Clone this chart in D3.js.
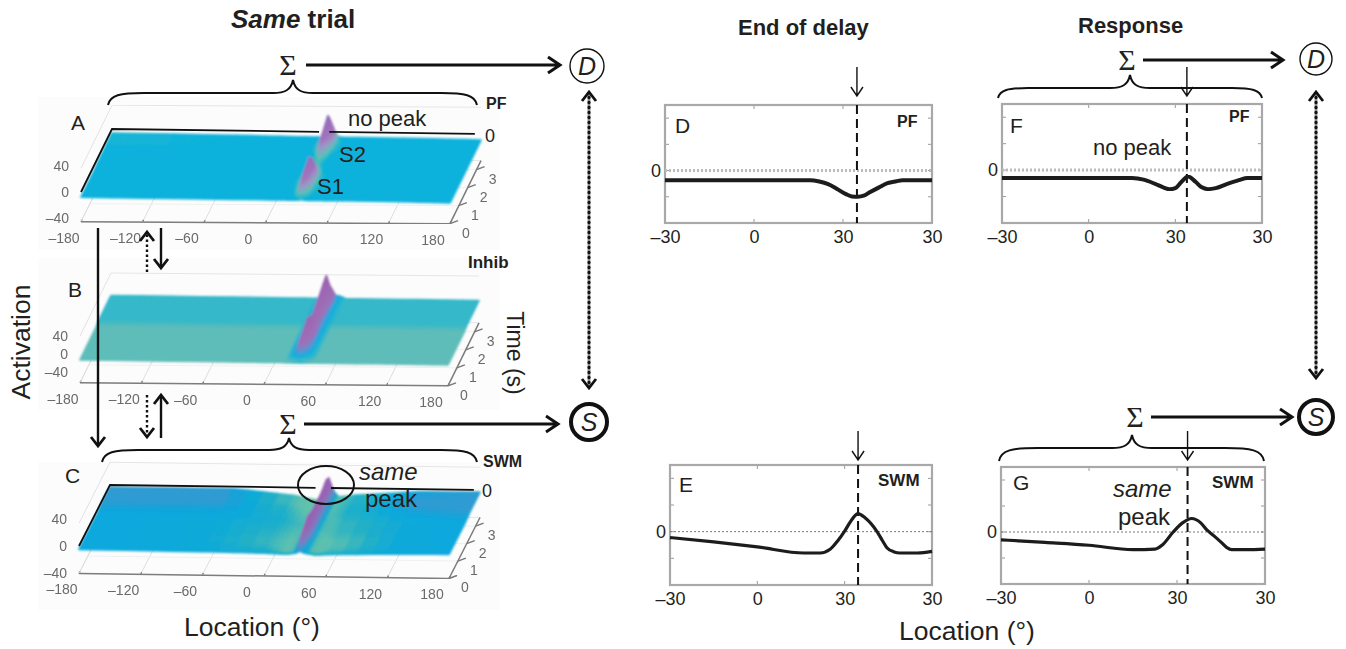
<!DOCTYPE html>
<html lang="en">
<head>
  <meta charset="UTF-8">
  <title>Same trial</title>
  <script src="https://d3js.org/d3.v7.min.js"></script>
  <style>
    body { margin: 0; background: #fff; }
    svg { display: block; }
    text { font-family: "Liberation Sans", Arial, sans-serif; fill: #231f20; }
    .tick3d { font-size: 14px; fill: #6a6a6a; }
    .panelLetter { font-size: 21px; }
    .note { font-size: 22px; }
    .note2 { font-size: 24px; }
    .tag { font-size: 16px; font-weight: bold; }
    .tagWide { font-size: 17px; font-weight: bold; }
    .axisTitle { font-size: 26.5px; }
    .tick text { font-size: 18px; fill: #231f20; font-family: "Liberation Sans", Arial, sans-serif; }
  </style>
</head>
<body>
<svg id="chart" width="1346" height="649"></svg>
<script>
// 3D surfaces: activation by time (rows) and location (columns)
const surfaceLocations = [-180, -60, 0, 20, 27, 31, 35, 39, 43, 50, 60, 120, 180];
const surfaceTimes = [0, 0.3, 0.6, 0.9, 1.2, 1.5, 1.8, 2.1, 2.4, 2.7, 3, 3.25, 3.5];
const locationTicks = [-180, -120, -60, 0, 60, 120, 180];
const timeTicks = [0, 1, 2, 3];
const activationTicks = [-40, 0, 40];

const pfSurface = [
  [-8, -8, -8, -8, -8, -8, -7, -8, -8, -8, -8, -8, -9],
  [-8, -8, -8, -8, -6, 4, 15, 4, -6, -8, -8, -8, -9],
  [-8, -8, -8, -8, -4, 9, 24, 9, -4, -8, -8, -8, -9],
  [-8, -8, -8, -8, -3, 14, 32, 14, -3, -8, -8, -8, -9],
  [-8, -8, -8, -8, -4, 8, 22, 8, -4, -8, -8, -8, -9],
  [-8, -8, -8, -8, -7, -3, 3, -2, -7, -8, -8, -8, -9],
  [-7, -8, -8, -8, -8, -6, -3, -6, -8, -8, -8, -8, -9],
  [-7, -8, -8, -8, -8, -5, -1, -5, -8, -8, -8, -8, -9],
  [-7, -8, -8, -8, -7, 0, 8, 0, -7, -8, -8, -8, -9],
  [-7, -7, -8, -8, -4, 12, 28, 12, -4, -8, -8, -8, -9],
  [-6, -7, -8, -8, -3, 17, 38, 17, -3, -8, -8, -8, -9],
  [-6, -7, -8, -8, -5, 10, 25, 10, -5, -8, -8, -8, -9],
  [-6, -7, -8, -8, -8, -6, -2, -6, -8, -8, -8, -8, -9]
];
const inhibSurface = [
  [-13, -13, -13, -13, -13, -13, -13, -13, -13, -13, -13, -13, -13],
  [-13, -13, -13, -13, -4, 4, 12, 4, -4, -13, -13, -13, -13],
  [-13, -13, -13, -13, -4, 14, 34, 14, -4, -13, -13, -13, -13],
  [-13, -13, -13, -13, -3, 22, 50, 22, -3, -13, -13, -13, -13],
  [-13, -13, -13, -13, -3, 18, 42, 18, -3, -13, -13, -13, -13],
  [-13, -13, -13, -13, -3, 14, 30, 14, -3, -13, -13, -13, -13],
  [-13, -13, -13, -13, -3, 12, 25, 12, -3, -13, -13, -13, -13],
  [-10, -10, -10, -10, -3, 16, 30, 14, -3, -10, -10, -10, -10],
  [-10, -10, -10, -10, -3, 22, 42, 20, -3, -10, -10, -10, -10],
  [-10, -10, -10, -10, -3, 28, 55, 26, -3, -10, -10, -10, -10],
  [-10, -10, -10, -10, -4, 30, 60, 30, -3, -10, -10, -10, -10],
  [-10, -10, -10, -10, -5, 14, 30, 18, -3, -10, -10, -10, -10],
  [-10, -10, -10, -10, -10, -8, -3, -4, -4, -10, -10, -10, -10]
];
const swmSurface = [
  [-5, -6, -7, -8, -7, -6, -3, -6, -7, -9, -8, -6, -5],
  [-5, -6, -9, -14, -13, -2, 12, -2, -13, -14, -12, -6, -5],
  [-5, -6, -11, -15, -12, 2, 20, 2, -13, -15, -14, -6, -5],
  [-5, -6, -11, -15, -12, 4, 25, 4, -13, -15, -14, -6, -5],
  [-5, -6, -10, -14, -12, 3, 22, 3, -13, -14, -12, -6, -5],
  [-5, -6, -9, -13, -12, 3, 20, 3, -12, -13, -11, -6, -5],
  [-5, -6, -8, -12, -12, 3, 20, 3, -12, -13, -11, -6, -5],
  [-5, -5, -8, -13, -12, 3, 20, 3, -12, -13, -10, -5, -4],
  [-4, -4, -9, -14, -13, 3, 20, 3, -13, -12, -9, -4, -3],
  [-3, -3, -10, -16, -14, 4, 22, 4, -14, -12, -9, -3, -3],
  [-3, -3, -12, -18, -15, 5, 25, 5, -14, -12, -10, -3, -3],
  [-3, -3, -12, -18, -15, 3, 21, 3, -14, -12, -10, -4, -3],
  [-3, -3, -12, -18, -16, -8, 2, -8, -13, -12, -10, -4, -3]
];

// colour ramps of the three surfaces
const pfColorStops = [-20, -7, -2, 5, 14, 40];
const pfColors = ["#0cb2dc", "#0cb2dc", "#5cc2b4", "#9a9ac8", "#a472bc", "#8f6cb8"];
const inhibColorStops = [-13, -10, -4, 2, 12, 60];
const inhibColors = ["#5fbdb9", "#36b8c9", "#10aee0", "#5a96d0", "#a070b8", "#9a62b0"];
const swmColorStops = [-22, -14, -9, -5, -2, 3, 12, 30];
const swmColors = ["#6cc4a8", "#5cc0b0", "#22b0c8", "#08a8de", "#4296cc", "#7a80c0", "#9c64b4", "#8e62b6"];

// 2D slices, location against activation
const xTickValues = [-30, 0, 30, 60];
const xTickLabels = ["–30", "0", "30", "30"];
const yTickValues = [-10, 0, 10, 20];

const delayPfX = [-30, 19, 22, 25, 28, 31, 33, 35, 37, 39, 42, 45, 48, 50, 60];
const delayPfY = [-3.7, -3.7, -4.2, -5.2, -7, -9, -9.9, -10, -9.6, -8.3, -6.5, -4.8, -4.1, -3.7, -3.7];
const responsePfX = [-30, 15, 19, 23, 26, 28, 30, 32, 34.4, 37, 39, 41.3, 44, 48, 52, 55, 60];
const responsePfY = [-3, -3, -3.6, -5.2, -6.6, -7.2, -6.8, -4.6, -2.4, -4.4, -6.4, -7.2, -6.8, -5.2, -3.8, -3, -3];
const delaySwmX = [-30, -15, 0, 16, 21.6, 25, 27.5, 30, 32.5, 34.6, 37, 41, 43, 44.5, 47, 49, 55, 60];
const delaySwmY = [-2.2, -3.8, -5.7, -8, -8, -6.6, -3.6, 0.2, 4.6, 6.8, 5.2, 0.2, -3.4, -6, -7.6, -8, -8, -7.4];
const responseSwmX = [-30, -15, 0, 15, 22.5, 25, 28.7, 32, 35, 38, 40, 42.5, 45, 47, 48.6, 53.8, 60];
const responseSwmY = [-3, -4, -5.1, -6.8, -6.6, -5, 0, 3.6, 5.2, 3.6, 1, -1.4, -3.9, -6, -6.8, -6.8, -6.6];

const svg = d3.select("#chart");
const defs = svg.append("defs");
[["blurSurface", 1.1], ["blurSoft", 0.5], ["blurLine", 0.6], ["blurBox", 0.5]].forEach(([id, sd]) => {
  defs.append("filter").attr("id", id)
    .attr("x", "-10%").attr("y", "-10%").attr("width", "120%").attr("height", "120%")
    .append("feGaussianBlur").attr("stdDeviation", sd);
});

// ---- 3D panels ----
function makePanel(o) {
  o.locX = d3.scaleLinear().domain([-180, 180]).range([0, o.width]);
  o.locFrac = d3.scaleLinear().domain([-180, 180]).range([0, 1]);
  o.timeFrac = d3.scaleLinear().domain([0, 3.5]).range([0, 1]);
  o.zPx = d3.scaleLinear().domain([0, 40]).range([0, -40 * o.k]);
  return o;
}

function project(p, loc, time, z, tilt) {
  const t = tilt === undefined ? p.tilt : tilt;
  return [
    p.x0 + p.locX(loc) + p.timeFrac(time) * p.depthX,
    p.zeroY + p.locFrac(loc) * t - p.timeFrac(time) * p.depthY + p.zPx(z)
  ];
}

function drawBox(p) {
  const g = svg.append("g");
  g.append("rect").attr("x", 38).attr("y", p.bgY).attr("width", 462).attr("height", p.bgH).attr("fill", "#fcfcfc");
  const line = d3.line();
  const seg = (a, b, color, w) => g.append("path").attr("d", line([a, b]))
    .attr("stroke", color).attr("stroke-width", w || 1).attr("fill", "none").attr("filter", "url(#blurSoft)");
  const pt = (l, t, z) => project(p, l, t, z, p.floorTilt);

  locationTicks.forEach(l => {
    seg(pt(l, 3.5, p.zFloor), pt(l, 3.5, p.zTop), "#e2e2e2");
    seg(pt(l, 0, p.zFloor), pt(l, 3.5, p.zFloor), "#dddddd");
    seg(pt(l, 0, p.zFloor), pt(l, 0.12, p.zFloor), "#777", 1.4);
  });
  timeTicks.forEach(t => {
    seg(pt(-180, t, p.zFloor), pt(180, t, p.zFloor), "#f0f0f0");
    seg(pt(180, t, p.zFloor), [pt(180, t, p.zFloor)[0] + 8, pt(180, t, p.zFloor)[1] - 3], "#777", 1.4);
  });
  seg(pt(-180, 3.5, p.zTop), pt(180, 3.5, p.zTop), "#e6e6e6");
  seg(pt(-180, 3.5, p.zFloor), pt(180, 3.5, p.zFloor), "#e4e4e4");
  seg(pt(-180, 0, p.zTop), pt(-180, 3.5, p.zTop), "#e2e2e2");
  seg(pt(-180, 0, p.zFloor), pt(-180, 3.5, p.zFloor), "#dddddd");
  seg(pt(-180, 0, p.zFloor), pt(180, 0, p.zFloor), "#7d7d7d", 1.5);
  seg(pt(180, 0, p.zFloor), pt(180, 3.5, p.zFloor), "#7d7d7d", 1.5);
  seg(pt(-180, 0, p.zFloor), pt(-180, 0, p.zTop), "#8a8a8a", 1.3);
  activationTicks.forEach(z => {
    const a = pt(-180, 0, z);
    seg(a, [a[0] - 7, a[1]], "#777", 1.3);
  });

  const labels = svg.append("g").attr("filter", "url(#blurSoft)");
  labels.selectAll(".loc").data(locationTicks).enter().append("text")
    .attr("class", "tick3d").attr("text-anchor", "middle")
    .attr("x", d => pt(d, 0, p.zFloor)[0] - 17)
    .attr("y", d => pt(d, 0, p.zFloor)[1] + 21)
    .text(d => String(d).replace("-", "–"));
  labels.selectAll(".time").data(timeTicks).enter().append("text")
    .attr("class", "tick3d").attr("text-anchor", "middle")
    .attr("x", d => pt(180, d, p.zFloor)[0] + 16)
    .attr("y", d => pt(180, d, p.zFloor)[1] + 14)
    .text(d => d);
  labels.selectAll(".act").data(activationTicks).enter().append("text")
    .attr("class", "tick3d").attr("text-anchor", "end")
    .attr("x", d => pt(-180, 0, d)[0] - 12)
    .attr("y", d => pt(-180, 0, d)[1] + 5)
    .text(d => String(d).replace("-", "–"));
}

function drawSurface(p, values, stops, colors) {
  const color = d3.scaleLinear().domain(stops).range(colors).clamp(true);
  const g = svg.append("g").attr("filter", "url(#blurSurface)");
  const steps = 4;
  const line = d3.line();
  // painted back to front so the near ridge covers what is behind it
  for (let r = surfaceTimes.length - 2; r >= 0; r--) {
    for (let c = 0; c < surfaceLocations.length - 1; c++) {
      const [z00, z01, z10, z11] = [values[r][c], values[r][c + 1], values[r + 1][c], values[r + 1][c + 1]];
      const tAt = d3.interpolate(surfaceTimes[r], surfaceTimes[r + 1]);
      const lAt = d3.interpolate(surfaceLocations[c], surfaceLocations[c + 1]);
      const zAt = (u, v) => d3.interpolate(d3.interpolate(z00, z01)(u), d3.interpolate(z10, z11)(u))(v);
      for (let v = steps - 1; v >= 0; v--) {
        for (let u = 0; u < steps; u++) {
          const u0 = u / steps, u1 = (u + 1) / steps, v0 = v / steps, v1 = (v + 1) / steps;
          const corners = [[u0, v0], [u1, v0], [u1, v1], [u0, v1]];
          const fill = color(d3.mean(corners, d => zAt(d[0], d[1])));
          g.append("path")
            .attr("d", line(corners.map(d => project(p, lAt(d[0]), tAt(d[1]), zAt(d[0], d[1])))) + "Z")
            .attr("fill", fill).attr("stroke", fill).attr("stroke-width", 1.6).attr("stroke-linejoin", "round");
        }
      }
    }
  }
}

function drawZeroPlane(p, gapFrom, gapTo) {
  const line = d3.line().x(d => project(p, d[0], d[1], 0)[0]).y(d => project(p, d[0], d[1], 0)[1]);
  const parts = gapFrom === null
    ? [[[-180, 0], [-180, 3.5], [174, 3.5]]]
    : [[[-180, 0], [-180, 3.5], [gapFrom, 3.5]], [[gapTo, 3.5], [174, 3.5]]];
  parts.forEach(d => svg.append("path").attr("d", line(d))
    .attr("fill", "none").attr("stroke", "#111").attr("stroke-width", 1.8));
}

const panelA = makePanel({ x0: 81, width: 369, zeroY: 192, k: 0.66, tilt: 5, floorTilt: 2, depthX: 31, depthY: 63, zFloor: -45, zTop: 36, bgY: 97, bgH: 153 });
const panelB = makePanel({ x0: 80, width: 368, zeroY: 354, k: 0.45, tilt: 5, floorTilt: 3, depthX: 31, depthY: 63, zFloor: -64, zTop: 40, bgY: 258, bgH: 152 });
const panelC = makePanel({ x0: 79, width: 370, zeroY: 546, k: 0.67, tilt: 5, floorTilt: 5, depthX: 31, depthY: 61, zFloor: -41, zTop: 34, bgY: 462, bgH: 148 });

drawBox(panelA); drawSurface(panelA, pfSurface, pfColorStops, pfColors); drawZeroPlane(panelA, 22, 32);
drawBox(panelB); drawSurface(panelB, inhibSurface, inhibColorStops, inhibColors);
drawBox(panelC); drawSurface(panelC, swmSurface, swmColorStops, swmColors); drawZeroPlane(panelC, 20, 35);

// ---- 2D panels ----
function drawSlice(o) {
  const x = d3.scaleLinear().domain([-30, 60]).range([o.left, o.right]);
  const y = d3.scaleLinear().domain([-20, 25]).range([o.bottom, o.top]);
  const g = svg.append("g");

  const ticks = g.append("g").attr("filter", "url(#blurBox)").attr("stroke", "#999");
  xTickValues.slice(1, 3).forEach(v => {
    ticks.append("line").attr("x1", x(v)).attr("x2", x(v)).attr("y1", o.bottom).attr("y2", o.bottom - 4);
    ticks.append("line").attr("x1", x(v)).attr("x2", x(v)).attr("y1", o.top).attr("y2", o.top + 4);
  });
  yTickValues.forEach(v => {
    ticks.append("line").attr("x1", o.left).attr("x2", o.left + 4).attr("y1", y(v)).attr("y2", y(v));
    ticks.append("line").attr("x1", o.right).attr("x2", o.right - 4).attr("y1", y(v)).attr("y2", y(v));
  });
  g.append("rect").attr("x", o.left).attr("y", o.top)
    .attr("width", o.right - o.left).attr("height", o.bottom - o.top)
    .attr("fill", "none").attr("stroke", "#a8a8a8").attr("stroke-width", 2.2).attr("filter", "url(#blurBox)");

  g.append("line").attr("x1", o.left).attr("x2", o.right).attr("y1", y(0)).attr("y2", y(0))
    .attr("stroke", o.zeroColor).attr("stroke-width", o.zeroWidth).attr("stroke-dasharray", "2,2");

  g.append("line").attr("x1", x(o.cue)).attr("x2", x(o.cue)).attr("y1", o.top).attr("y2", o.bottom)
    .attr("stroke", "#111").attr("stroke-width", 2).attr("stroke-dasharray", "9,5");

  const line = d3.line().x(d => x(d[0])).y(d => y(d[1])).curve(d3.curveMonotoneX);
  g.append("path").attr("d", line(d3.zip(o.xs, o.ys)))
    .attr("fill", "none").attr("stroke", "#1c1c1c").attr("stroke-width", o.lineWidth).attr("filter", "url(#blurLine)");

  const axis = g.append("g").attr("transform", `translate(0,${o.bottom})`)
    .call(d3.axisBottom(x).tickValues(xTickValues).tickSize(0).tickPadding(7)
      .tickFormat((d, i) => xTickLabels[i]));
  axis.select(".domain").remove();
  axis.selectAll("text").attr("dy", "0.71em");

  g.append("text").attr("x", o.left - 4).attr("y", y(0) + 6).attr("text-anchor", "end")
    .style("font-size", "18px").text("0");

  thinArrow(x(o.cue), o.arrowTop, o.arrowTop + 29);
}

function thinArrow(x, y0, y1) {
  svg.append("path").attr("d", `M${x},${y0}V${y1}M${x - 6},${y1 - 9}L${x},${y1}L${x + 6},${y1 - 9}`)
    .attr("fill", "none").attr("stroke", "#111").attr("stroke-width", 1.4);
}

drawSlice({ left: 665, right: 932, top: 105, bottom: 223, cue: 34.7, xs: delayPfX, ys: delayPfY, lineWidth: 4, zeroColor: "#bcbcbc", zeroWidth: 3, arrowTop: 67 });
drawSlice({ left: 1002, right: 1262, top: 104, bottom: 223, cue: 34, xs: responsePfX, ys: responsePfY, lineWidth: 4, zeroColor: "#bcbcbc", zeroWidth: 3, arrowTop: 67 });
drawSlice({ left: 670, right: 932, top: 465, bottom: 585, cue: 34.6, xs: delaySwmX, ys: delaySwmY, lineWidth: 3.2, zeroColor: "#777", zeroWidth: 1, arrowTop: 431 });
drawSlice({ left: 1001, right: 1265, top: 467, bottom: 584, cue: 33.6, xs: responseSwmX, ys: responseSwmY, lineWidth: 3.2, zeroColor: "#777", zeroWidth: 1, arrowTop: 431 });

// ---- schematic: braces, arrows, decision nodes ----
function brace(x0, x1, xc, yTip, yFlat, yCenter) {
  const r = yTip - yFlat;
  const d = `M${x0},${yTip}C${x0 + 2},${yFlat + 2} ${x0 + r},${yFlat} ${x0 + 3 * r},${yFlat}` +
    `L${xc - 20},${yFlat}C${xc - 8},${yFlat} ${xc - 2},${yFlat - 3} ${xc},${yCenter}` +
    `C${xc + 2},${yFlat - 3} ${xc + 8},${yFlat} ${xc + 20},${yFlat}` +
    `L${x1 - 3 * r},${yFlat}C${x1 - r},${yFlat} ${x1 - 2},${yFlat + 2} ${x1},${yTip}`;
  svg.append("path").attr("d", d).attr("fill", "none").attr("stroke", "#111").attr("stroke-width", 2);
}

function arrowH(x0, x1, y) {
  svg.append("path").attr("d", `M${x0},${y}H${x1}M${x1 - 12},${y - 8}L${x1},${y}L${x1 - 12},${y + 8}`)
    .attr("fill", "none").attr("stroke", "#111").attr("stroke-width", 3);
}

function arrowV(x, y0, y1, dotted, width) {
  const dir = y1 > y0 ? -1 : 1;
  const path = svg.append("path").attr("d", `M${x},${y0}V${y1}`)
    .attr("fill", "none").attr("stroke", "#111").attr("stroke-width", width || 2.8);
  if (dotted) path.attr("stroke-dasharray", "2.5,2.5");
  svg.append("path").attr("d", `M${x - 7},${y1 + dir * 9}L${x},${y1}L${x + 7},${y1 + dir * 9}`)
    .attr("fill", "none").attr("stroke", "#111").attr("stroke-width", 2.8);
}

function sigma(x, y) {
  svg.append("text").attr("x", x).attr("y", y).attr("text-anchor", "middle")
    .style("font-family", "'Liberation Serif', serif").style("font-size", "30px").text("Σ");
}

function node(x, y, r, w, label) {
  svg.append("circle").attr("cx", x).attr("cy", y).attr("r", r)
    .attr("fill", "#fff").attr("stroke", "#111").attr("stroke-width", w);
  svg.append("text").attr("x", x).attr("y", y + 9).attr("text-anchor", "middle")
    .style("font-size", "25px").style("font-style", "italic").text(label);
}

brace(108, 477, 293, 105, 93, 80);
brace(102, 477, 289, 462, 450, 438);
brace(998, 1262, 1130, 98, 88, 75);
brace(999, 1264, 1132, 461, 448, 435);

sigma(288, 75); sigma(288, 434); sigma(1127, 70); sigma(1135, 427);
arrowH(306, 560, 65); arrowH(304, 558, 424); arrowH(1143, 1283, 60); arrowH(1151, 1292, 417);
node(587, 66, 17, 1.4, "D"); node(589, 422, 18, 4, "S");
node(1316, 59, 16, 1.4, "D"); node(1316, 417, 17, 4, "S");

arrowV(589, 388, 92, true); arrowV(589, 92, 388, true);
arrowV(1316, 378, 92, true); arrowV(1316, 92, 378, true);

arrowV(98, 228, 446, false, 2.4);
arrowV(147, 272, 232, true, 2.4);
arrowV(161, 228, 268, false, 2.4);
arrowV(147, 395, 437, true, 2.4);
arrowV(161, 438, 395, false, 2.4);

// ellipse round the peak in C
svg.append("ellipse").attr("cx", 326).attr("cy", 485).attr("rx", 28).attr("ry", 19)
  .attr("fill", "none").attr("stroke", "#111").attr("stroke-width", 2);

// ---- text ----
function label(x, y, txt, cls, anchor, extra) {
  const t = svg.append("text").attr("x", x).attr("y", y).attr("class", cls || null)
    .attr("text-anchor", anchor || "start").text(txt);
  if (extra) Object.entries(extra).forEach(([k, v]) => t.style(k, v));
  return t;
}

const title = svg.append("text").attr("x", 231).attr("y", 28).style("font-size", "26px").style("font-weight", "bold");
title.append("tspan").style("font-style", "italic").text("Same");
title.append("tspan").text(" trial");
label(738, 35, "End of delay", null, "start", { "font-size": "22px", "font-weight": "bold" });
label(1078, 33, "Response", null, "start", { "font-size": "22px", "font-weight": "bold" });

label(71, 130, "A", "panelLetter"); label(68, 297, "B", "panelLetter"); label(65, 483, "C", "panelLetter");
label(675, 133, "D", "panelLetter"); label(679, 492, "E", "panelLetter");
label(1010, 133, "F", "panelLetter"); label(1013, 490, "G", "panelLetter");

label(348, 126, "no peak", "note"); label(339, 162, "S2", "note"); label(317, 194, "S1", "note");
label(1093, 155, "no peak", "note");
label(359, 480, "same", "note2", "start", { "font-style": "italic" }); label(365, 507, "peak", "note2");
label(1113, 497, "same", "note2", "start", { "font-style": "italic" }); label(1118, 525, "peak", "note2");

label(486, 109, "PF", "tag"); label(468, 268, "Inhib", "tagWide"); label(483, 467, "SWM", "tag");
label(485, 142, "0", null, "start", { "font-size": "18px" }); label(482, 497, "0", null, "start", { "font-size": "18px" });
label(897, 127, "PF", "tag"); label(1229, 122, "PF", "tag");
label(878, 486, "SWM", "tagWide"); label(1212, 488, "SWM", "tagWide");

label(252, 636, "Location (°)", "axisTitle", "middle");
label(967, 640, "Location (°)", "axisTitle", "middle");
svg.append("text").attr("class", "axisTitle").attr("transform", "translate(30,342) rotate(-90)")
  .attr("text-anchor", "middle").text("Activation");
svg.append("text").attr("transform", "translate(507,353) rotate(90)").attr("text-anchor", "middle")
  .style("font-size", "23px").text("Time (s)");
</script>
</body>
</html>
